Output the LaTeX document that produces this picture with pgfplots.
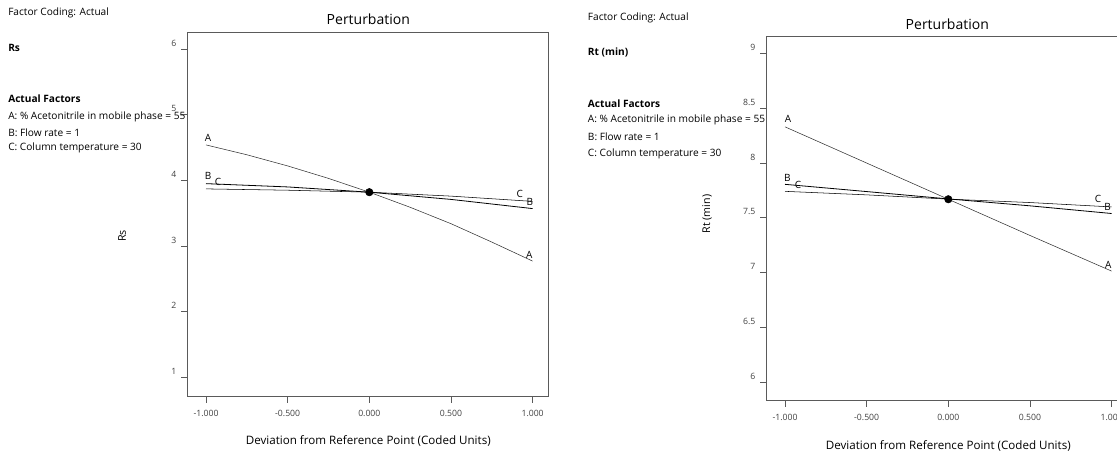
\documentclass[border=0pt]{standalone}
\usepackage{fontspec}
\setmainfont{Open Sans}
\usepackage{pgfplots}
\pgfplotsset{compat=1.18}

\definecolor{frame}{HTML}{5A5A5A}
\definecolor{curve}{HTML}{303030}

\tikzset{lbl/.style={font=\fontsize{7.5}{8}\selectfont}}

\pgfplotsset{
  pert/.style={
    scale only axis,
    width=270.45pt, height=273pt,
    axis line style={frame, line width=0.7pt},
    axis x line*=bottom, axis y line*=left,
    tick align=outside,
    tick style={frame, line width=0.6pt},
    major tick length=5pt,
    xtick={-1,-0.5,0,0.5,1},
    xticklabel style={font=\fontsize{6.5}{7}\selectfont, text=black!75, yshift=-2pt},
    yticklabel style={font=\fontsize{6.5}{7}\selectfont, text=black!75, yshift=4.5pt},
    x tick label style={/pgf/number format/.cd, fixed, fixed zerofill, precision=3},
    /pgf/number format/assume math mode=true,
    clip=false,
    cycle list={{curve, line width=0.6pt, no markers}},
  },
  frameall/.style={
    after end axis/.code={
      \draw[frame, line width=0.7pt] (rel axis cs:0,0) rectangle (rel axis cs:1,1);
    },
  },
}

\begin{document}
\begin{tikzpicture}

% ---------- left panel: Rs ----------
\begin{axis}[pert, frameall,
  at={(140.78pt,-297pt)}, anchor=south west,
  xmin=-1.112, xmax=1.096, ymin=0.715, ymax=6.26,
  ytick={1,2,3,4,5,6},
  yticklabel style={/pgf/number format/.cd, fixed, precision=0}]
  \addplot coordinates {(-1,4.54) (-0.75,4.39) (-0.5,4.22) (-0.25,4.03) (0,3.82) (0.25,3.59) (0.5,3.34) (0.75,3.06) (1,2.77)};
  \addplot coordinates {(-1,3.95) (-0.5,3.90) (0,3.82) (0.5,3.71) (1,3.57)};
  \addplot coordinates {(-1,3.87) (-0.5,3.85) (0,3.82) (0.5,3.76) (1,3.68)};
  \addplot[only marks, mark=*, mark size=2.8pt, black] coordinates {(0,3.82)};
  \node[lbl] at (axis cs:-0.987,4.65) {A};
  \node[lbl] at (axis cs:-0.987,4.06) {B};
  \node[lbl] at (axis cs:-0.926,3.97) {C};
  \node[lbl] at (axis cs:0.922,3.79) {C};
  \node[lbl] at (axis cs:0.983,3.67) {B};
  \node[lbl] at (axis cs:0.98,2.86) {A};
\end{axis}

% ---------- right panel: Rt ----------
\begin{axis}[pert, frameall,
  at={(575.03pt,-300pt)}, anchor=south west,
  xmin=-1.112, xmax=1.096, ymin=5.84, ymax=9.158,
  ytick={6,6.5,7,7.5,8,8.5,9}]
  \addplot coordinates {(-1,8.33) (-0.5,8.00) (0,7.67) (0.5,7.34) (1,7.015)};
  \addplot coordinates {(-1,7.806) (-0.5,7.74) (0,7.673) (0.5,7.61) (1,7.54)};
  \addplot coordinates {(-1,7.742) (-0.5,7.71) (0,7.671) (0.5,7.64) (1,7.60)};
  \addplot[only marks, mark=*, mark size=2.8pt, black] coordinates {(0,7.67)};
  \node[lbl] at (axis cs:-0.982,8.40) {A};
  \node[lbl] at (axis cs:-0.985,7.86) {B};
  \node[lbl] at (axis cs:-0.92,7.80) {C};
  \node[lbl] at (axis cs:0.917,7.67) {C};
  \node[lbl] at (axis cs:0.976,7.60) {B};
  \node[lbl] at (axis cs:0.98,7.07) {A};
\end{axis}

% ---------- texts, in pixel units of the reference ----------
\begin{scope}[x=0.75pt, y=-0.75pt]
  \tikzset{t/.style={anchor=west, inner sep=0pt, font=\fontsize{7.6}{8}\selectfont},
           tb/.style={t, font=\fontsize{7.6}{8}\selectfont\bfseries}}
  % left
  \node[t] at (8,13.3) {Factor Coding: Actual};
  \node[tb] at (8,47.7) {Rs};
  \node[tb] at (8,98.7) {Actual Factors};
  \node[t] at (8,116.7) {A: \% Acetonitrile in mobile phase = 55};
  \node[t] at (8,132.3) {B: Flow rate = 1};
  \node[t] at (8,148.3) {C: Column temperature = 30};
  \node[font=\fontsize{10.5}{12}\selectfont] at (368.3,19.3) {Perturbation};
  \node[font=\fontsize{8.7}{10}\selectfont] at (368.3,440.7) {Deviation from Reference Point (Coded Units)};
  \node[rotate=90, font=\fontsize{8}{9}\selectfont] at (122,236) {Rs};
  % right
  \node[t] at (587.7,18.3) {Factor Coding: Actual};
  \node[tb] at (587.7,52.3) {Rt (min)};
  \node[tb] at (587.7,103.3) {Actual Factors};
  \node[t] at (587.7,120) {A: \% Acetonitrile in mobile phase = 55};
  \node[t] at (587.7,137) {B: Flow rate = 1};
  \node[t] at (587.7,154) {C: Column temperature = 30};
  \node[font=\fontsize{10.5}{12}\selectfont] at (947.3,24.3) {Perturbation};
  \node[font=\fontsize{8.7}{10}\selectfont] at (948.3,445.7) {Deviation from Reference Point (Coded Units)};
  \node[rotate=90, font=\fontsize{8}{9}\selectfont] at (707,214) {Rt (min)};
\end{scope}

\pgfresetboundingbox
\path (0,0) rectangle (837.75pt,-338.25pt);
\end{tikzpicture}
\end{document}
